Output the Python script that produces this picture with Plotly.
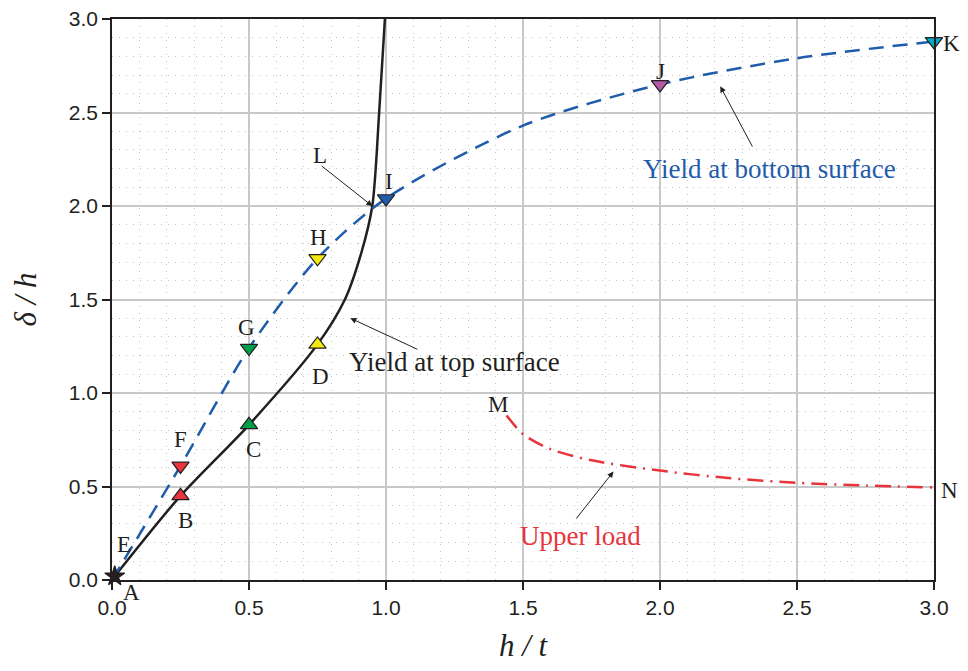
import plotly.graph_objects as go

# Yield at top surface (black solid)
top_x = [0.01, 0.25, 0.5, 0.75, 0.85, 0.91, 0.95, 0.975, 0.996]
top_y = [0.02, 0.45, 0.83, 1.26, 1.5, 1.75, 2.0, 2.5, 3.0]

# Yield at bottom surface (blue dashed)
bot_x = [0.0, 0.25, 0.5, 0.75, 1.0, 1.5, 2.0, 2.5, 3.0]
bot_y = [0.0, 0.61, 1.24, 1.72, 2.04, 2.43, 2.65, 2.79, 2.88]

# Upper load (red dash-dot)
up_x = [1.44, 1.5, 1.6, 1.75, 2.0, 2.25, 2.5, 2.75, 3.0]
up_y = [0.88, 0.78, 0.70, 0.64, 0.585, 0.545, 0.52, 0.505, 0.495]

# Marked points
pt_names = ["A", "B", "C", "D", "F", "G", "H", "I", "J", "K"]
pt_x = [0.01, 0.25, 0.5, 0.75, 0.25, 0.5, 0.75, 1.0, 2.0, 3.0]
pt_y = [0.02, 0.45, 0.83, 1.26, 0.61, 1.24, 1.72, 2.04, 2.65, 2.88]
pt_sym = ["star", "triangle-up", "triangle-up", "triangle-up", "triangle-down",
          "triangle-down", "triangle-down", "triangle-down", "triangle-down", "triangle-down"]
pt_col = ["#231f20", "#e8343c", "#00a04a", "#f2ea10", "#e8343c", "#00a04a",
          "#f2ea10", "#1f5caa", "#b25aa8", "#00a9c4"]

# Letter labels (data units)
lab_text = ["A", "B", "C", "D", "E", "F", "G", "H", "I", "J", "K", "L", "M", "N"]
lab_x = [0.07, 0.27, 0.515, 0.76, 0.044, 0.25, 0.49, 0.755, 1.01, 2.0, 3.065, 0.76, 1.41, 3.055]
lab_y = [-0.065, 0.32, 0.70, 1.09, 0.19, 0.75, 1.35, 1.83, 2.13, 2.72, 2.87, 2.27, 0.94, 0.48]

x_ticks = [0.0, 0.5, 1.0, 1.5, 2.0, 2.5, 3.0]
y_ticks = [0.0, 0.5, 1.0, 1.5, 2.0, 2.5, 3.0]
x_range = [0, 3]
y_range = [0, 3]

fig = go.Figure()
fig.add_trace(go.Scatter(x=top_x, y=top_y, mode="lines", line=dict(color="#231f20", width=2.5, shape="spline", smoothing=0.8), showlegend=False))
fig.add_trace(go.Scatter(x=bot_x, y=bot_y, mode="lines", line=dict(color="#1f5caa", width=2.5, dash="15px,9px", shape="spline", smoothing=0.8), showlegend=False))
fig.add_trace(go.Scatter(x=up_x, y=up_y, mode="lines", line=dict(color="#e8343c", width=2.5, dash="16px,7px,2px,7px", shape="spline", smoothing=0.8), showlegend=False))
fig.add_trace(go.Scatter(x=pt_x, y=pt_y, mode="markers", cliponaxis=False,
                         marker=dict(symbol=pt_sym, color=pt_col, size=15, line=dict(color="#231f20", width=1.2)),
                         showlegend=False))

serif = "Liberation Serif"
for t, x, y in zip(lab_text, lab_x, lab_y):
    fig.add_annotation(x=(x - x_range[0]) / (x_range[1] - x_range[0]),
                       y=(y - y_range[0]) / (y_range[1] - y_range[0]),
                       xref="paper", yref="paper", xanchor="center", yanchor="middle",
                       text=t, showarrow=False,
                       font=dict(family=serif, size=23, color="#231f20"))

# arrows with texts
arrow = dict(axref="x", ayref="y", text="", showarrow=True, arrowhead=2, arrowsize=1.2,
             arrowwidth=1, arrowcolor="#231f20")
fig.add_annotation(x=0.95, y=2.0, ax=0.76, ay=2.22, **arrow)
fig.add_annotation(x=0.87, y=1.40, ax=1.12, ay=1.23, **arrow)
fig.add_annotation(x=1.25, y=1.165, text="Yield at top surface", showarrow=False,
                   xanchor="center", yanchor="middle",
                   font=dict(family=serif, size=27, color="#231f20"))
fig.add_annotation(x=2.22, y=2.64, ax=2.34, ay=2.31, **arrow)
fig.add_annotation(x=2.40, y=2.20, text="Yield at bottom surface", showarrow=False,
                   xanchor="center", yanchor="middle",
                   font=dict(family=serif, size=27, color="#1f5caa"))
fig.add_annotation(x=1.83, y=0.58, ax=1.69, ay=0.32, **arrow)
fig.add_annotation(x=1.71, y=0.235, text="Upper load", showarrow=False,
                   xanchor="center", yanchor="middle",
                   font=dict(family=serif, size=27, color="#e8343c"))

axis_common = dict(
    showline=True, linecolor="#231f20", linewidth=1.5, mirror=True,
    ticks="outside", ticklen=8, tickcolor="#231f20", tickwidth=1.5,
    showgrid=True, gridcolor="#c8c8c8", gridwidth=1.5,
    zeroline=False, automargin=False, ticklabeloverflow="allow",
    tickfont=dict(family="Liberation Sans", size=21, color="#231f20"),
    minor=dict(dtick=0.1, showgrid=True, gridcolor="#c4c4c4", griddash="1px,6px", gridwidth=1, ticks=""),
)

fig.update_xaxes(range=x_range, tickvals=x_ticks, ticktext=[f"{v:.1f}" for v in x_ticks],
                 title=dict(text="h / t", font=dict(family=serif, size=31, color="#231f20", style="italic"), standoff=34),
                 **axis_common)
fig.update_yaxes(range=y_range, tickvals=y_ticks, ticktext=[f"{v:.1f}" for v in y_ticks],
                 title=dict(text="δ / h", font=dict(family=serif, size=31, color="#231f20", style="italic"), standoff=31),
                 **axis_common)

fig.update_layout(width=952, height=655, plot_bgcolor="white", paper_bgcolor="white",
                  margin=dict(l=104, r=26, t=11, b=83))

fig.write_html("out.html")
